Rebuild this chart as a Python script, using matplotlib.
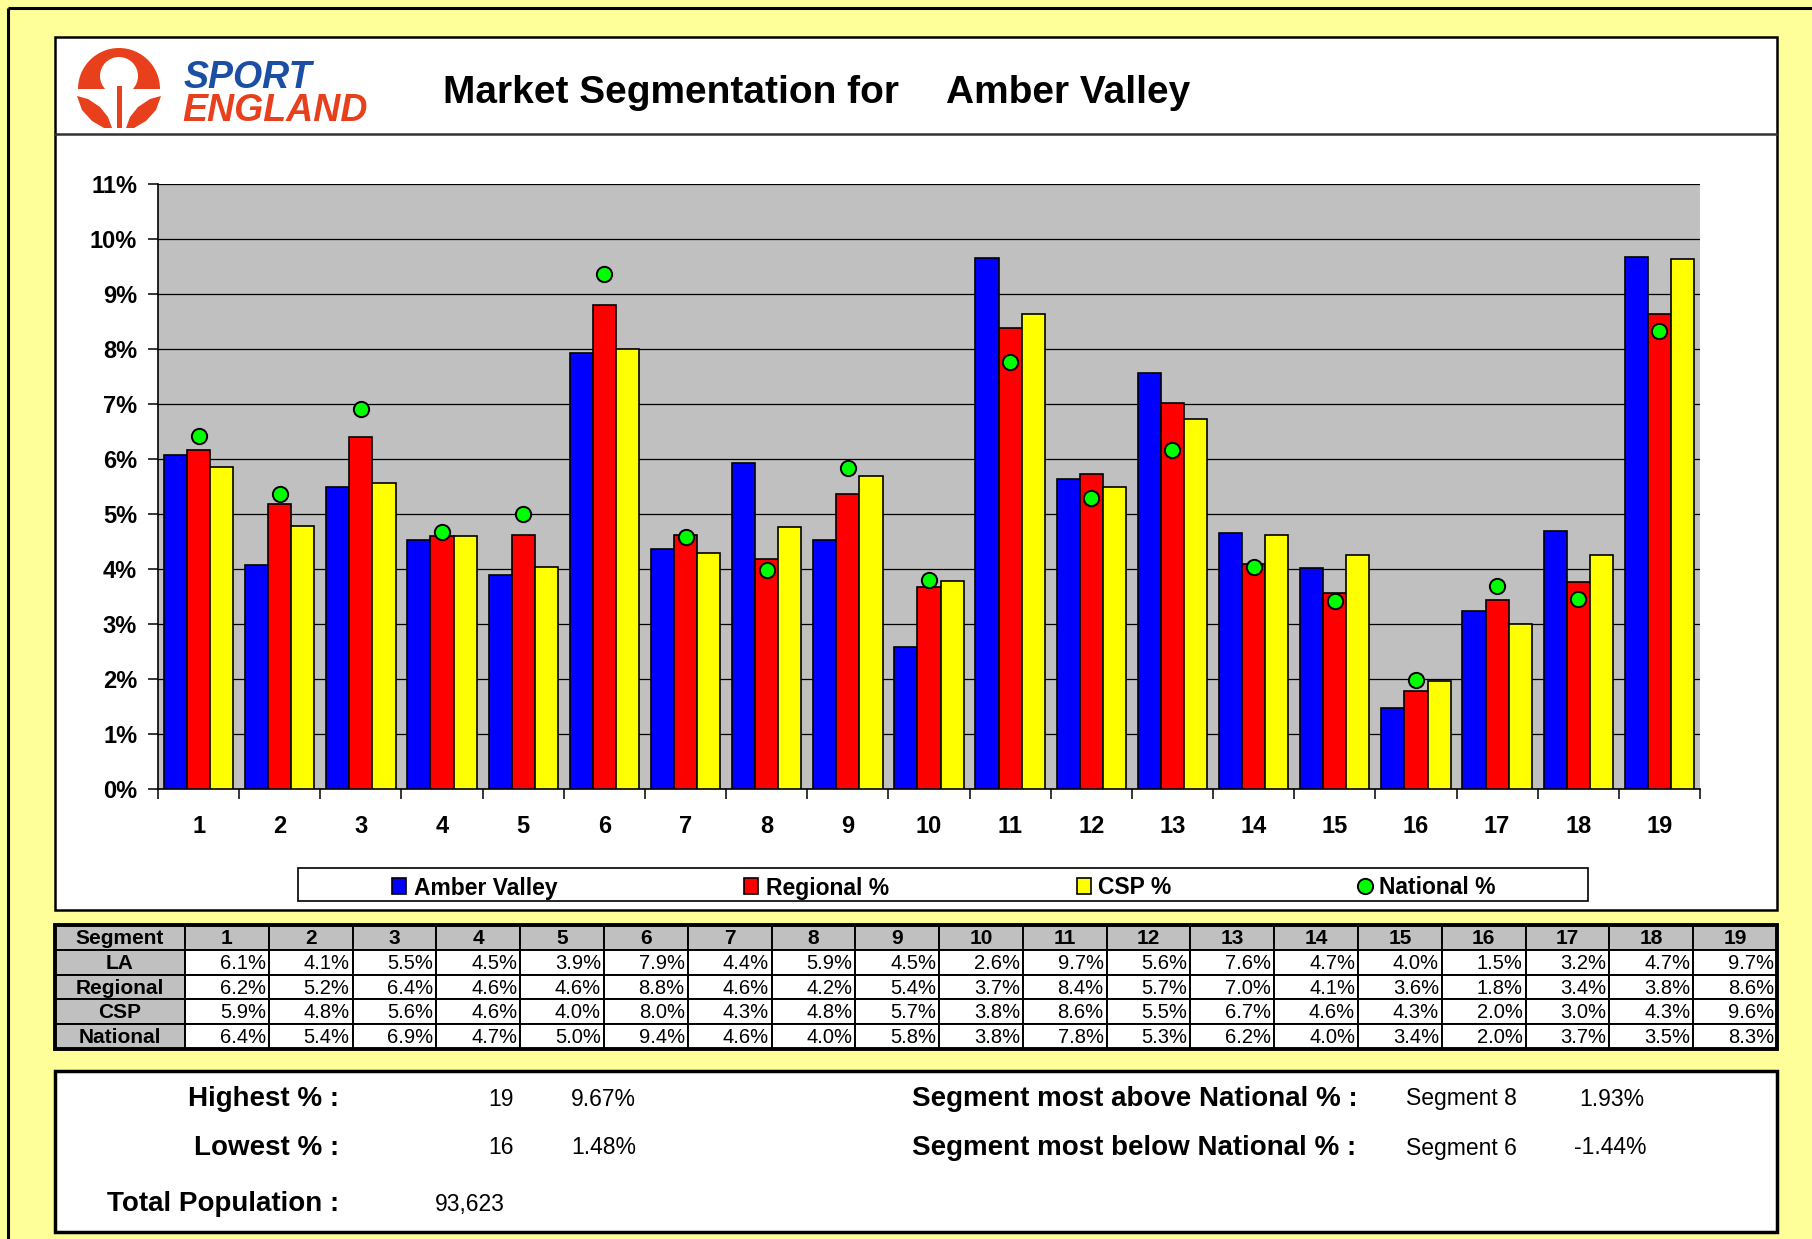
import numpy as np
import matplotlib
matplotlib.use("Agg")
import matplotlib.pyplot as plt
from matplotlib.patches import Rectangle, Wedge, Circle, Polygon

plt.rcParams['font.family'] = ['Liberation Sans', 'DejaVu Sans']

# ---------------- data ----------------
segments = list(range(1, 20))
la_pct = [6.07, 4.07, 5.50, 4.53, 3.90, 7.92, 4.37, 5.92, 4.53, 2.58,
          9.66, 5.63, 7.56, 4.66, 4.01, 1.48, 3.23, 4.70, 9.67]
regional_pct = [6.17, 5.18, 6.40, 4.60, 4.62, 8.80, 4.62, 4.18, 5.37, 3.67,
                8.38, 5.73, 7.01, 4.09, 3.57, 1.78, 3.44, 3.76, 8.63]
csp_pct = [5.86, 4.79, 5.56, 4.60, 4.04, 8.00, 4.30, 4.76, 5.69, 3.78,
           8.63, 5.50, 6.72, 4.62, 4.26, 1.97, 3.00, 4.26, 9.63]
national_pct = [6.42, 5.36, 6.91, 4.68, 5.00, 9.36, 4.58, 3.99, 5.84, 3.80,
                7.77, 5.29, 6.17, 4.03, 3.42, 1.99, 3.69, 3.46, 8.33]
series_names = ["Amber Valley", "Regional %", "CSP %", "National %"]
table_row_labels = ["LA", "Regional", "CSP", "National"]
y_ticks = list(range(0, 12))
area_name = "Amber Valley"
title_prefix = "Market Segmentation for"
total_population = "93,623"

# ---------------- figure ----------------
W, H = 1812, 1239
fig = plt.figure(figsize=(W / 100, H / 100), dpi=100)
fig.patch.set_facecolor('#FFFF99')

bg = fig.add_axes([0, 0, 1, 1], zorder=0)
bg.set_xlim(0, W)
bg.set_ylim(H, 0)
bg.axis('off')

# outer frame (left/top edges)
bg.plot([8, 8], [8, H], color='black', lw=2.2, solid_capstyle='butt')
bg.plot([8, W], [8, 8], color='black', lw=2.2, solid_capstyle='butt')

# chart box
bg.add_patch(Rectangle((55, 37), 1777 - 55, 910 - 37, facecolor='white',
                       edgecolor='black', lw=1.8))
bg.plot([55, 1777], [134, 134], color='#333333', lw=1.8)

# ---- logo ----
logo_red = '#E8401C'
bg.add_patch(Wedge((119, 89), 41, 180, 360, facecolor=logo_red, edgecolor='none'))
bg.add_patch(Circle((119, 76), 19, facecolor='white', edgecolor='none'))
bg.add_patch(Rectangle((116.5, 86), 5, 42, facecolor=logo_red, edgecolor='none'))
left_leaf = [(77, 96), (88, 99), (100, 107), (108, 117), (112, 128),
             (104, 128), (92, 121), (82, 110)]
bg.add_patch(Polygon(left_leaf, closed=True, facecolor=logo_red, edgecolor='none'))
right_leaf = [(238 - px, py) for px, py in left_leaf]
bg.add_patch(Polygon(right_leaf, closed=True, facecolor=logo_red, edgecolor='none'))
bg.text(184, 88, "SPORT", fontsize=27, fontweight='bold', style='italic',
        color='#1B4FA3', ha='left', va='baseline')
bg.text(182, 121, "ENGLAND", fontsize=27, fontweight='bold', style='italic',
        color=logo_red, ha='left', va='baseline')

# ---- title ----
bg.text(443, 93, title_prefix, fontsize=28, fontweight='bold', ha='left', va='center')
bg.text(946, 93, area_name, fontsize=28, fontweight='bold', ha='left', va='center')

# ---------------- chart ----------------
ax = fig.add_axes([158 / W, 1 - 789 / H, (1700 - 158) / W, (789 - 184) / H], zorder=2)
x = np.arange(1, len(segments) + 1)
bw = 0.285
ax.bar(x - bw, la_pct, bw, color='#0000FF', edgecolor='black', lw=1.2, zorder=3)
ax.bar(x, regional_pct, bw, color='#FF0000', edgecolor='black', lw=1.2, zorder=3)
ax.bar(x + bw, csp_pct, bw, color='#FFFF00', edgecolor='black', lw=1.2, zorder=3)
ax.plot(x, national_pct, 'o', ms=11, mfc='#00FF00', mec='black', mew=1.4,
        ls='none', zorder=4)

ax.set_xlim(0.5, len(segments) + 0.5)
ax.set_ylim(0, 11)
ax.set_facecolor('#C0C0C0')
ax.set_yticks(y_ticks)
ax.set_yticklabels([f"{v}%" for v in y_ticks], fontsize=17, fontweight='bold')
ax.yaxis.grid(True, color='black', lw=0.9)
ax.set_axisbelow(True)
for s in ['top', 'right']:
    ax.spines[s].set_visible(False)
for s in ['left', 'bottom']:
    ax.spines[s].set_color('black')
    ax.spines[s].set_linewidth(1.2)
ax.tick_params(axis='y', direction='out', length=7, width=1.1, pad=8)
ax.set_xticks(np.arange(0.5, len(segments) + 1, 1))
ax.set_xticklabels([])
ax.set_xticks(x, minor=True)
ax.set_xticklabels([str(s) for s in segments], minor=True, fontsize=17,
                   fontweight='bold')
ax.tick_params(axis='x', which='major', direction='out', length=7, width=1.1)
ax.tick_params(axis='x', which='minor', length=0, pad=19)

# ---------------- legend ----------------
bg.add_patch(Rectangle((298, 868), 1588 - 298, 901 - 868, facecolor='white',
                       edgecolor='black', lw=1.2, zorder=1))
legend_colors = ['#0000FF', '#FF0000', '#FFFF00', '#00FF00']
legend_marker_x = [392, 744, 1077, 1358]
legend_text_x = [414, 766, 1098, 1379]
ly = 886
for i, (name, col) in enumerate(zip(series_names, legend_colors)):
    if i < 3:
        bg.add_patch(Rectangle((legend_marker_x[i], ly - 8), 14, 16, facecolor=col,
                               edgecolor='black', lw=1.2, zorder=2))
    else:
        bg.plot([legend_marker_x[i] + 7], [ly], 'o', ms=11, mfc=col, mec='black',
                mew=1.4, zorder=2)
    bg.text(legend_text_x[i], ly + 2, name, fontsize=16.5, fontweight='bold',
            ha='left', va='center', zorder=3)

# ---------------- table ----------------
tx0, ty0 = 55, 925
first_w = 130
col_w = (1777 - 185) / len(segments)
row_h = (1049 - 925) / 5
table_rows = [la_pct, regional_pct, csp_pct, national_pct]
grey = '#C0C0C0'
tfs = 15
bg.add_patch(Rectangle((tx0, ty0), first_w, row_h, facecolor=grey, edgecolor='black', lw=1.4))
bg.text(tx0 + first_w / 2, ty0 + row_h / 2 + 1, "Segment", fontsize=tfs, fontweight='bold',
        ha='center', va='center')
for j, s in enumerate(segments):
    cx = tx0 + first_w + j * col_w
    bg.add_patch(Rectangle((cx, ty0), col_w, row_h, facecolor=grey, edgecolor='black', lw=1.4))
    bg.text(cx + col_w / 2, ty0 + row_h / 2 + 1, str(s), fontsize=tfs, fontweight='bold',
            ha='center', va='center')
for r, (lab, vals) in enumerate(zip(table_row_labels, table_rows)):
    cy = ty0 + (r + 1) * row_h
    bg.add_patch(Rectangle((tx0, cy), first_w, row_h, facecolor=grey, edgecolor='black', lw=1.4))
    bg.text(tx0 + first_w / 2, cy + row_h / 2 + 1, lab, fontsize=tfs, fontweight='bold',
            ha='center', va='center')
    for j, v in enumerate(vals):
        cx = tx0 + first_w + j * col_w
        bg.add_patch(Rectangle((cx, cy), col_w, row_h, facecolor='white', edgecolor='black', lw=1.4))
        bg.text(cx + col_w - 3, cy + row_h / 2 + 1, f"{v:.1f}%", fontsize=14.5,
                ha='right', va='center')
bg.add_patch(Rectangle((tx0, ty0), 1777 - tx0, 5 * row_h, facecolor='none',
                       edgecolor='black', lw=2.8))

# ---------------- summary box ----------------
la_arr = np.array(la_pct)
nat_arr = np.array(national_pct)
hi = int(np.argmax(la_arr))
lo = int(np.argmin(la_arr))
diff = la_arr - nat_arr
above = int(np.argmax(diff))
below = int(np.argmin(diff))

bg.add_patch(Rectangle((55, 1071), 1777 - 55, 1232 - 1071, facecolor='white',
                       edgecolor='black', lw=2.5))
lab_kw = dict(fontsize=20, fontweight='bold', va='center')
val_kw = dict(fontsize=16.5, va='center')
r1, r2, r3 = 1099, 1148, 1204
bg.text(339, r1, "Highest % :", ha='right', **lab_kw)
bg.text(514, r1, str(segments[hi]), ha='right', **val_kw)
bg.text(571, r1, f"{la_arr[hi]:.2f}%", ha='left', **val_kw)
bg.text(339, r2, "Lowest % :", ha='right', **lab_kw)
bg.text(514, r2, str(segments[lo]), ha='right', **val_kw)
bg.text(571, r2, f"{la_arr[lo]:.2f}%", ha='left', **val_kw)
bg.text(339, r3, "Total Population :", ha='right', **lab_kw)
bg.text(435, r3, total_population, ha='left', **val_kw)
bg.text(912, r1, "Segment most above National % :", ha='left', **lab_kw)
bg.text(1406, r1, f"Segment {segments[above]}", ha='left', **val_kw)
bg.text(1579, r1, f"{diff[above]:.2f}%", ha='left', **val_kw)
bg.text(912, r2, "Segment most below National % :", ha='left', **lab_kw)
bg.text(1406, r2, f"Segment {segments[below]}", ha='left', **val_kw)
bg.text(1574, r2, f"{diff[below]:.2f}%", ha='left', **val_kw)

fig.savefig("out.png", dpi=100, facecolor=fig.get_facecolor())
